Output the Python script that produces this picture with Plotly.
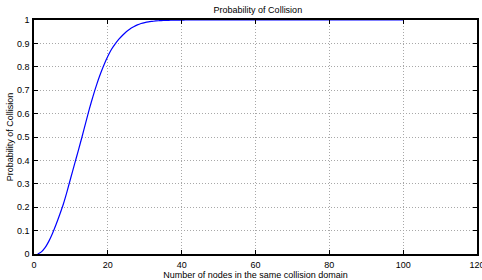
import plotly.graph_objects as go

nodes = list(range(1, 101))
prob_head = [0.0, 0.009, 0.027, 0.054, 0.088, 0.127, 0.17, 0.216, 0.27, 0.328,
             0.385, 0.442, 0.50, 0.56, 0.62, 0.675, 0.725, 0.77, 0.81, 0.845,
             0.875, 0.898, 0.918, 0.935, 0.95, 0.962, 0.971, 0.979, 0.985, 0.989,
             0.992, 0.994, 0.996, 0.997, 0.998, 0.9985, 0.999, 0.9994, 0.9996, 0.9997]
prob_tail = [1.0] * 60
probability = prob_head + prob_tail

x_ticks = [0, 20, 40, 60, 80, 100, 120]
y_ticks = [0, 0.1, 0.2, 0.3, 0.4, 0.5, 0.6, 0.7, 0.8, 0.9, 1]
y_tick_text = ["0", "0.1", "0.2", "0.3", "0.4", "0.5", "0.6", "0.7", "0.8", "0.9", "1"]

FONT = "Liberation Sans, Arial"

fig = go.Figure()
fig.add_trace(go.Scatter(x=nodes, y=probability, mode="lines",
                         line=dict(color="#0000ff", width=1.2, shape="spline", smoothing=0.6),
                         showlegend=False, hoverinfo="skip"))

axis_common = dict(
    showline=True, linecolor="black", linewidth=1.5, mirror="allticks",
    ticks="inside", ticklen=4, tickcolor="black", tickwidth=1,
    showgrid=True, gridcolor="#a8a8a8", griddash="1px,2px", gridwidth=1,
    zeroline=False, automargin=False, ticklabeloverflow="allow",
    tickfont=dict(family=FONT, size=9, color="black"),
)

fig.update_xaxes(range=[0, 120], tickvals=x_ticks, ticktext=[str(v) for v in x_ticks],
                 title=dict(text="Number of nodes in the same collision domain",
                            font=dict(family=FONT, size=9, color="black"), standoff=0),
                 ticklabelstandoff=1,
                 **axis_common)
fig.update_yaxes(range=[0, 1], tickvals=y_ticks, ticktext=y_tick_text,
                 title=dict(text="Probability of Collision",
                            font=dict(family=FONT, size=9, color="black"), standoff=2),
                 ticklabelstandoff=1,
                 **axis_common)

fig.update_layout(
    width=482, height=280,
    margin=dict(l=34, r=5, t=20, b=26),
    paper_bgcolor="white", plot_bgcolor="white",
    title=dict(text="Probability of Collision", x=0.535, xanchor="center", y=0.965, yanchor="middle",
               font=dict(family=FONT, size=9, color="black")),
)

fig.write_html("out.html", config={"displayModeBar": False},
               post_script="document.body.style.margin='0';document.body.style.overflow='hidden';")
